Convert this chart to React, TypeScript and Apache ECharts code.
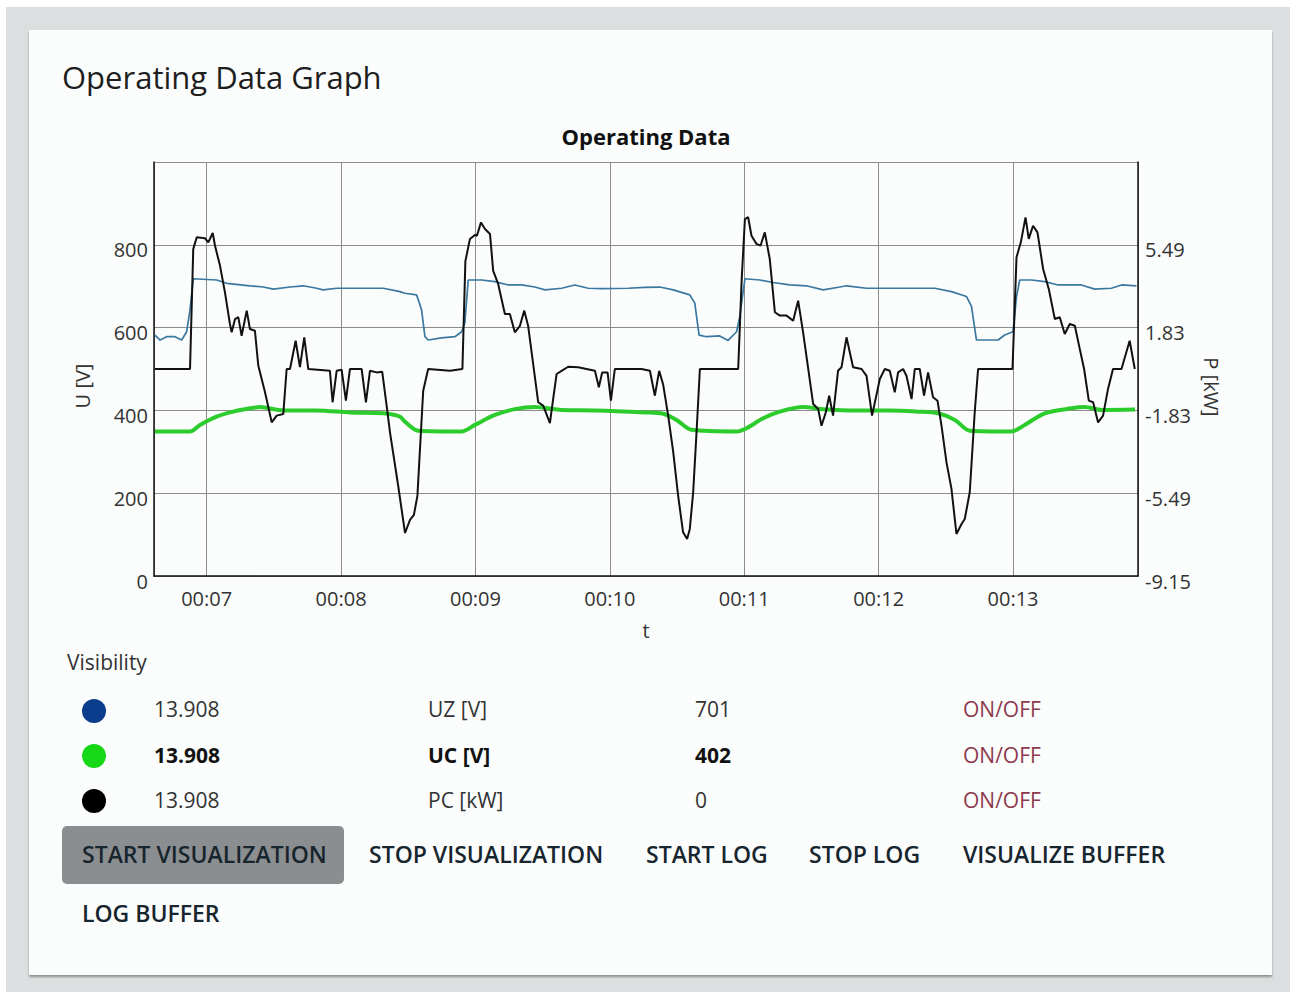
import React, { useEffect, useRef } from 'react';
import * as echarts from 'echarts';

// ---- data ----
const uzTime = [6.615, 6.653, 6.702, 6.764, 6.814, 6.851, 6.876, 6.9, 7.074, 7.149, 7.322, 7.421, 7.495, 7.62, 7.719, 7.818, 7.867, 7.967, 8.116, 8.314, 8.438, 8.475, 8.562, 8.599, 8.624, 8.648, 8.748, 8.847, 8.897, 8.921, 8.946, 9.046, 9.145, 9.244, 9.343, 9.442, 9.517, 9.641, 9.74, 9.839, 9.938, 10.136, 10.26, 10.372, 10.471, 10.595, 10.632, 10.664, 10.72, 10.818, 10.88, 10.943, 10.967, 11.005, 11.116, 11.215, 11.339, 11.463, 11.587, 11.711, 11.761, 11.91, 12.083, 12.245, 12.418, 12.542, 12.654, 12.691, 12.728, 12.79, 12.889, 12.938, 13.0, 13.026, 13.05, 13.137, 13.236, 13.335, 13.509, 13.608, 13.732, 13.807, 13.918];
const uzValues = [582, 570, 578, 578, 570, 590, 643, 718, 715, 707, 701, 698, 693, 698, 701, 695, 691, 695, 695, 695, 687, 683, 679, 643, 578, 570, 575, 578, 590, 611, 715, 715, 711, 703, 703, 698, 691, 695, 703, 695, 694, 695, 697, 698, 691, 679, 659, 582, 578, 580, 569, 590, 627, 718, 715, 709, 703, 701, 691, 698, 701, 695, 695, 695, 695, 687, 675, 651, 570, 570, 570, 582, 590, 675, 715, 715, 711, 703, 703, 693, 695, 703, 701];

const ucTime = [6.615, 6.876, 6.95, 7.074, 7.198, 7.322, 7.396, 7.57, 7.818, 8.066, 8.314, 8.438, 8.475, 8.574, 8.897, 8.996, 9.145, 9.293, 9.442, 9.641, 9.889, 10.26, 10.397, 10.496, 10.608, 10.943, 11.017, 11.141, 11.265, 11.438, 11.587, 11.835, 12.083, 12.293, 12.442, 12.567, 12.678, 12.988, 13.087, 13.236, 13.435, 13.534, 13.658, 13.908];
const ucValues = [349, 349, 365, 385, 397, 405, 408, 400, 400, 395, 393, 385, 373, 351, 349, 365, 389, 403, 408, 401, 400, 395, 392, 377, 353, 349, 357, 381, 397, 408, 403, 400, 400, 397, 393, 377, 351, 349, 365, 393, 405, 408, 401, 402];

const pcTime = [6.615, 6.876, 6.9, 6.926, 6.987, 7.012, 7.045, 7.062, 7.099, 7.136,
  7.173, 7.186, 7.211, 7.235, 7.26, 7.298, 7.322, 7.359, 7.384, 7.434,
  7.484, 7.521, 7.57, 7.595, 7.62, 7.662, 7.694, 7.726, 7.756, 7.917,
  7.937, 7.967, 8.004, 8.036, 8.066, 8.153, 8.185, 8.215, 8.265, 8.306,
  8.339, 8.364, 8.425, 8.476, 8.513, 8.542, 8.568, 8.611, 8.648, 8.81,
  8.903, 8.925, 8.959, 8.996, 9.011, 9.041, 9.071, 9.108, 9.132, 9.169,
  9.219, 9.256, 9.293, 9.331, 9.363, 9.392, 9.467, 9.504, 9.554, 9.578,
  9.604, 9.641, 9.69, 9.764, 9.889, 9.918, 9.943, 9.983, 10.008, 10.037,
  10.236, 10.298, 10.335, 10.367, 10.397, 10.434, 10.471, 10.508, 10.545, 10.575,
  10.595, 10.62, 10.645, 10.67, 10.955, 10.98, 11.005, 11.029, 11.054, 11.091,
  11.121, 11.153, 11.19, 11.228, 11.265, 11.315, 11.364, 11.401, 11.438, 11.513,
  11.55, 11.575, 11.607, 11.632, 11.661, 11.698, 11.724, 11.761, 11.81, 11.873,
  11.91, 11.951, 12.009, 12.046, 12.083, 12.12, 12.145, 12.182, 12.207, 12.245,
  12.269, 12.306, 12.338, 12.368, 12.405, 12.438, 12.468, 12.505, 12.542, 12.579,
  12.617, 12.641, 12.678, 12.715, 12.74, 12.996, 13.026, 13.058, 13.093, 13.117,
  13.149, 13.182, 13.224, 13.266, 13.311, 13.348, 13.385, 13.422, 13.46, 13.497,
  13.529, 13.564, 13.596, 13.633, 13.67, 13.707, 13.744, 13.807, 13.868, 13.906];
const pcValues = [0, 0, 5.3, 5.82, 5.78, 5.6, 6.01, 5.45, 4.57, 3.39,
  1.99, 1.62, 2.21, 2.29, 1.47, 2.58, 1.77, 1.69, 0.15, -1.03,
  -2.36, -2.06, -1.99, 0, 0, 1.25, 0.08, 1.4, 0, -0.08,
  -1.47, -0.08, -0.03, -1.4, 0, 0, -1.47, -0.08, -0.15, -0.12,
  -1.62, -2.8, -5.16, -7.25, -6.67, -6.45, -5.61, -0.97, 0, -0.08,
  0, 4.77, 5.75, 5.92, 5.89, 6.48, 6.19, 5.97, 4.34, 3.76,
  2.43, 2.43, 1.62, 1.91, 2.58, 1.91, -1.47, -1.62, -2.39, -1.33,
  -0.22, -0.08, 0.1, 0.08, -0.08, -0.81, -0.15, -0.15, -1.4, 0,
  0, -0.08, -1.18, -0.08, -0.7, -2.06, -3.64, -5.6, -7.22, -7.51,
  -7.07, -5.45, -2.8, 0, 0, 3.83, 6.63, 6.71, 5.89, 5.53,
  5.45, 6.04, 4.86, 2.51, 2.36, 2.36, 2.13, 3.02, 1.62, -1.55,
  -1.77, -2.51, -1.91, -1.18, -2.06, -0.08, 0.08, 1.4, 0.08, 0,
  -0.3, -2.06, -0.44, 0, -0.08, -1.03, -0.15, 0, -0.3, -1.33,
  0, 0, -1.18, -0.15, -1.25, -1.4, -2.51, -4.13, -5.3, -7.29,
  -6.85, -6.63, -5.45, -1.91, 0, 0, 4.94, 5.6, 6.7, 5.75,
  6.33, 6.04, 4.42, 3.54, 2.21, 2.29, 1.55, 1.99, 1.91, 0.88,
  0, -1.4, -1.47, -2.36, -2.06, -0.88, 0, 0, 1.25, 0];

const timeMin = 6.608;
const timeMax = 13.93;
const voltMin = 0;
const voltMax = 1000;
const voltStep = 200;
const powerMin = -9.15;
const powerMax = 9.15;
const powerStep = 3.66;

const legendColors = ['#0b3d8c', '#16d816', '#000000'];
const legendTimes = ['13.908', '13.908', '13.908'];
const legendNames = ['UZ [V]', 'UC [V]', 'PC [kW]'];
const legendValues = ['701', '402', '0'];
const legendBold = [false, true, false];
const buttonRow1 = ['START VISUALIZATION', 'STOP VISUALIZATION', 'START LOG', 'STOP LOG', 'VISUALIZE BUFFER'];
const buttonRow2 = ['LOG BUFFER'];

const FONT = "'Open Sans', 'Noto Sans', sans-serif";

function zip(t: number[], v: number[]) {
  const n = Math.min(t.length, v.length);
  const out: number[][] = [];
  for (let i = 0; i < n; i++) out.push([t[i], v[i]]);
  return out;
}

function Chart() {
  const ref = useRef<HTMLDivElement>(null);
  useEffect(() => {
    if (!ref.current) return;
    const chart = echarts.init(ref.current, null, { renderer: 'svg' });
    const labelStyle = { fontSize: 20, color: '#333', fontFamily: FONT };
    chart.setOption({
      animation: false,
      backgroundColor: 'transparent',
      textStyle: { fontFamily: FONT },
      title: {
        text: 'Operating Data',
        left: 'center',
        top: 15,
        padding: 0,
        textStyle: { fontSize: 22, fontWeight: 'bold', color: '#111', fontFamily: FONT },
      },
      grid: { left: 114, right: 114, top: 52, bottom: 74 },
      xAxis: {
        type: 'value',
        min: timeMin,
        max: timeMax,
        minInterval: 1,
        maxInterval: 1,
        name: 't',
        nameLocation: 'middle',
        nameGap: 44,
        nameTextStyle: { ...labelStyle },
        axisLine: { show: true, onZero: false, lineStyle: { color: '#111', width: 1.5 } },
        axisTick: { show: false },
        axisLabel: {
          ...labelStyle,
          margin: 12,
          showMinLabel: false,
          showMaxLabel: false,
          formatter: (v: number) => '00:' + String(Math.round(v)).padStart(2, '0'),
        },
        splitLine: { show: true, lineStyle: { color: '#8c8c8c', width: 1 } },
      },
      yAxis: [
        {
          type: 'value',
          min: voltMin,
          max: voltMax,
          interval: voltStep,
          position: 'left',
          name: 'U [V]',
          nameLocation: 'middle',
          nameGap: 62,
          nameTextStyle: { ...labelStyle, padding: [0, 34, 0, 0] },
          axisLine: { show: true, lineStyle: { color: '#111', width: 1.5 } },
          axisTick: { show: false },
          axisLabel: { ...labelStyle, margin: 6, showMaxLabel: false, verticalAlign: 'top', lineHeight: 10 },
          splitLine: { show: true, lineStyle: { color: '#8c8c8c', width: 1 } },
        },
        {
          type: 'value',
          min: powerMin,
          max: powerMax,
          interval: powerStep,
          position: 'right',
          name: 'P [kW]',
          nameLocation: 'middle',
          nameRotate: -90,
          nameGap: 62,
          nameTextStyle: { ...labelStyle, padding: [0, 0, 0, 36] },
          axisLine: { show: true, lineStyle: { color: '#111', width: 1.5 } },
          axisTick: { show: false },
          axisLabel: {
            ...labelStyle,
            margin: 7,
            showMaxLabel: false,
            verticalAlign: 'top',
            lineHeight: 10,
            formatter: (v: number) => v.toFixed(2),
          },
          splitLine: { show: false },
        },
      ],
      series: [
        {
          name: 'UZ [V]',
          type: 'line',
          yAxisIndex: 0,
          showSymbol: false,
          data: zip(uzTime, uzValues),
          lineStyle: { color: '#3a78a0', width: 1.7 },
          itemStyle: { color: '#3a78a0' },
        },
        {
          name: 'UC [V]',
          type: 'line',
          yAxisIndex: 0,
          showSymbol: false,
          smooth: 0.3,
          data: zip(ucTime, ucValues),
          lineStyle: { color: '#2bcc2b', width: 4 },
          itemStyle: { color: '#2bcc2b' },
        },
        {
          name: 'PC [kW]',
          type: 'line',
          yAxisIndex: 1,
          showSymbol: false,
          data: zip(pcTime, pcValues),
          lineStyle: { color: '#111', width: 2 },
          itemStyle: { color: '#111' },
        },
      ],
    });
    return () => chart.dispose();
  }, []);
  return (
    <div
      ref={ref}
      style={{ position: 'absolute', left: 40, top: 110, width: 1212, height: 540 }}
    />
  );
}

const txt = (left: number, top: number, extra: React.CSSProperties = {}): React.CSSProperties => ({
  position: 'absolute',
  left,
  top,
  fontFamily: FONT,
  fontSize: 21,
  lineHeight: '20px',
  color: '#333',
  whiteSpace: 'nowrap',
  ...extra,
});

export default function App() {
  const rowTops = [699, 745, 790];
  const rowCenters = [711, 756, 801];
  const btnLefts = [82, 369, 646, 809, 963];
  return (
    <div style={{ position: 'absolute', left: 0, top: 0, width: 1290, height: 992, background: '#ffffff', overflow: 'hidden' }}>
      <div style={{ position: 'absolute', left: 6, top: 7, width: 1284, height: 985, background: '#dcdfdf' }} />
      <div
        style={{
          position: 'absolute',
          left: 29,
          top: 30,
          width: 1243,
          height: 945,
          background: '#fbfdfd',
          boxShadow: '0 2px 2px rgba(0,0,0,0.35)',
        }}
      />
      <div style={txt(62, 62, { fontSize: 31, lineHeight: '30px', color: '#1e1e1e' })}>Operating Data Graph</div>
      <Chart />
      <div style={txt(67, 652)}>Visibility</div>
      {legendNames.map((name, i) => {
        const w = legendBold[i] ? 700 : 400;
        const c = legendBold[i] ? '#111' : '#333';
        return (
          <React.Fragment key={name}>
            <div
              style={{
                position: 'absolute',
                left: 82,
                top: rowCenters[i] - 12,
                width: 24,
                height: 24,
                borderRadius: 12,
                background: legendColors[i],
              }}
            />
            <div style={txt(154, rowTops[i], { fontWeight: w, color: c })}>{legendTimes[i]}</div>
            <div style={txt(428, rowTops[i], { fontWeight: w, color: c })}>{name}</div>
            <div style={txt(695, rowTops[i], { fontWeight: w, color: c })}>{legendValues[i]}</div>
            <div style={txt(963, rowTops[i], { color: '#8b3a4c' })}>ON/OFF</div>
          </React.Fragment>
        );
      })}
      <div
        style={{
          position: 'absolute',
          left: 62,
          top: 826,
          width: 282,
          height: 58,
          borderRadius: 5,
          background: '#8b8e90',
        }}
      />
      {buttonRow1.map((b, i) => (
        <div key={b} style={txt(btnLefts[i], 844, { fontSize: 23, fontWeight: 600, color: '#17252e' })}>{b}</div>
      ))}
      {buttonRow2.map((b) => (
        <div key={b} style={txt(82, 903, { fontSize: 23, fontWeight: 600, color: '#17252e' })}>{b}</div>
      ))}
    </div>
  );
}
